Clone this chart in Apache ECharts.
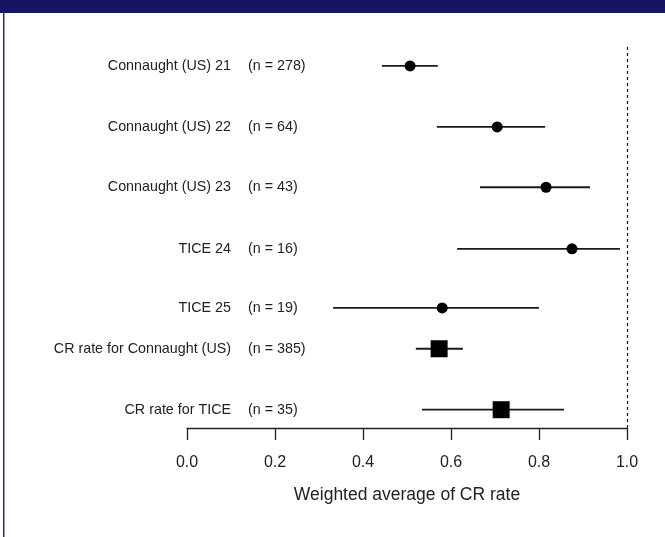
<!DOCTYPE html>
<html>
<head>
<meta charset="utf-8">
<script src="https://cdn.jsdelivr.net/npm/echarts@6/dist/echarts.min.js"></script>
<style>
html,body{margin:0;padding:0;background:#fff;}
#chart{width:665px;height:537px;}
</style>
</head>
<body>
<div id="chart"></div>
<script>
// ---- data ----
const studies = ['Connaught (US) 21', 'Connaught (US) 22', 'Connaught (US) 23', 'TICE 24', 'TICE 25', 'CR rate for Connaught (US)', 'CR rate for TICE'];
const nLabels = ['(n = 278)', '(n = 64)', '(n = 43)', '(n = 16)', '(n = 19)', '(n = 385)', '(n = 35)'];
const rowPos = [6.64, 5.64, 4.65, 3.64, 2.67, 2.0, 1.0];
const estimate = [0.507, 0.705, 0.816, 0.875, 0.580, 0.573, 0.714];
const lower = [0.443, 0.568, 0.666, 0.614, 0.332, 0.520, 0.534];
const upper = [0.570, 0.814, 0.916, 0.984, 0.800, 0.627, 0.857];
const isSummary = [false, false, false, false, false, true, true];
const xTicks = [0, 0.2, 0.4, 0.6, 0.8, 1.0];
const refValue = 1.0;
const xTitle = 'Weighted average of CR rate';

const FONT = '"Liberation Sans", Arial, Helvetica, sans-serif';

const ciData = studies.map((s, i) => [lower[i], upper[i], rowPos[i]]);
const studyPts = [], sumPts = [];
studies.forEach((s, i) => {
  (isSummary[i] ? sumPts : studyPts).push([estimate[i], rowPos[i]]);
});

function rowIndex(v) {
  let best = 0, bd = 1e9;
  rowPos.forEach((p, i) => { const d = Math.abs(p - v); if (d < bd) { bd = d; best = i; } });
  return best;
}

const yBase = {
  type: 'value', min: 0.7, max: 7, position: 'left',
  axisLine: {show: false}, axisTick: {show: false}, splitLine: {show: false}
};

const chart = echarts.init(document.getElementById('chart'), null, {renderer: 'canvas'});
chart.setOption({
  animation: false,
  backgroundColor: '#ffffff',
  textStyle: {fontFamily: FONT},
  graphic: [
    {type: 'rect', left: 0, top: 0, shape: {width: 665, height: 13}, style: {fill: '#161463'}, z: 10},
    {type: 'rect', left: 3, top: 13, shape: {width: 1.5, height: 524}, style: {fill: '#2a2878'}, z: 10}
  ],
  grid: {left: 187, right: 38, top: 44, bottom: 109, containLabel: false},
  xAxis: {
    type: 'value', min: 0, max: 1, interval: 0.2,
    name: xTitle, nameLocation: 'middle', nameGap: 58,
    nameTextStyle: {fontSize: 17.5, color: '#222', fontFamily: FONT},
    axisLine: {show: true, lineStyle: {color: '#222', width: 1.3}},
    axisTick: {show: true, length: 12, lineStyle: {color: '#222', width: 1.3}},
    axisLabel: {fontSize: 16, color: '#222', margin: 27, fontFamily: FONT,
      formatter: v => v.toFixed(1)},
    splitLine: {show: false}
  },
  yAxis: [
    Object.assign({}, yBase, {
      offset: -44,
      axisLabel: {show: true, margin: 0, customValues: rowPos, align: 'right',
        fontSize: 14.3, color: '#222', fontFamily: FONT,
        formatter: v => studies[rowIndex(v)]}
    }),
    Object.assign({}, yBase, {
      offset: -61,
      axisLabel: {show: true, margin: 0, customValues: rowPos, align: 'left',
        fontSize: 14.3, color: '#222', fontFamily: FONT,
        formatter: v => nLabels[rowIndex(v)]}
    })
  ],
  series: [
    {
      type: 'custom', name: 'CI', data: ciData, z: 2,
      encode: {x: [0, 1], y: 2},
      renderItem: function (params, api) {
        const p1 = api.coord([api.value(0), api.value(2)]);
        const p2 = api.coord([api.value(1), api.value(2)]);
        return {type: 'line', shape: {x1: p1[0], y1: p1[1], x2: p2[0], y2: p2[1]},
          style: {stroke: '#1a1a1a', lineWidth: 1.8}};
      }
    },
    {
      type: 'scatter', name: 'Study', data: studyPts, symbol: 'circle', symbolSize: 11, z: 3,
      itemStyle: {color: '#000', opacity: 1},
      markLine: {
        silent: true, symbol: 'none', label: {show: false},
        lineStyle: {color: '#111', type: [3, 3], width: 1.2},
        data: [{xAxis: refValue}]
      }
    },
    {
      type: 'scatter', name: 'Summary', data: sumPts, symbol: 'rect', symbolSize: 17, z: 3,
      itemStyle: {color: '#000', opacity: 1}
    }
  ]
});
</script>
</body>
</html>
